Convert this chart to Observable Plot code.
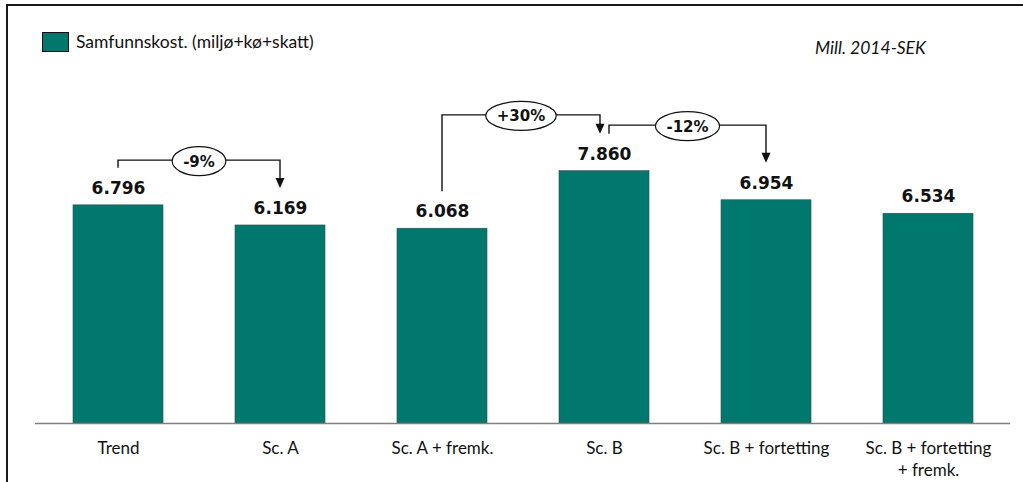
<!DOCTYPE html>
<html>
<head>
<meta charset="utf-8">
<script src="https://cdn.jsdelivr.net/npm/d3@7"></script>
<script src="https://cdn.jsdelivr.net/npm/@observablehq/plot@0.6"></script>
<style>
  html, body { margin: 0; padding: 0; background: #fff; overflow: hidden; }
  #wrap { position: relative; width: 1023px; height: 482px; font-family: Lato, "Open Sans", sans-serif; }
  #frameTop { position: absolute; left: 6px; top: 4px; width: 1017px; height: 0; border-top: 2px solid #1a1a1a; }
  #frameLeft { position: absolute; left: 6px; top: 4px; width: 0; height: 478px; border-left: 2px solid #1a1a1a; }
  #legend { position: absolute; left: 42px; top: 31px; display: flex; align-items: center; font-size: 17.5px; color: #111; }
  #legend .sw { width: 25px; height: 18px; background: #00786D; border: 1.5px solid #111; margin-right: 7px; }
  #unit { position: absolute; left: 815px; top: 37px; font-size: 17.5px; font-style: italic; color: #111; }
  #chart { position: absolute; left: 0; top: 0; }
</style>
</head>
<body>
<div id="wrap">
  <div id="chart"></div>
  <div id="frameTop"></div>
  <div id="frameLeft"></div>
  <div id="legend"><div class="sw"></div><span id="legendText"></span></div>
  <div id="unit"></div>
</div>
<script>
// ---- data ----
const categories = ["Trend", "Sc. A", "Sc. A + fremk.", "Sc. B", "Sc. B + fortetting", "Sc. B + fortetting + fremk."];
const tickLabels = ["Trend", "Sc. A", "Sc. A + fremk.", "Sc. B", "Sc. B + fortetting", "Sc. B + fortetting\n+ fremk."];
const values = [6.796, 6.169, 6.068, 7.860, 6.954, 6.534];
const valueLabels = ["6.796", "6.169", "6.068", "7.860", "6.954", "6.534"];
const seriesName = "Samfunnskost. (miljø+kø+skatt)";
const unitLabel = "Mill. 2014-SEK";
// change annotations
const annFrom = ["Trend", "Sc. A + fremk.", "Sc. B"];
const annTo = ["Sc. A", "Sc. B", "Sc. B + fortetting"];
const annLabel = ["-9%", "+30%", "-12%"];
const annLevel = [8.19, 9.6, 9.28];   // height of the connector (value units)

document.getElementById("legendText").textContent = seriesName;
document.getElementById("unit").textContent = unitLabel;

const data = categories.map((c, i) => ({cat: c, value: values[i], label: valueLabels[i], tick: tickLabels[i]}));
const barColor = "#00786D";

const plot = Plot.plot({
  width: 1023,
  height: 482,
  marginTop: 102,
  marginBottom: 59,
  marginLeft: 35,
  marginRight: 13,
  style: {fontFamily: "Lato, 'Open Sans', sans-serif", background: "transparent", overflow: "visible"},
  x: {domain: categories, paddingInner: 0.445, paddingOuter: 0.2225, axis: null},
  y: {domain: [0, 10], axis: null},
  marks: [
    Plot.barY(data, {x: "cat", y: "value", fill: barColor, stroke: "#2f4f4b", strokeWidth: 0.6}),
    Plot.ruleY([0], {stroke: "#808080", strokeWidth: 1.5}),
    Plot.text(data, {x: "cat", y: "value", text: "label", dy: -17, fontSize: 17, fontWeight: "bold",
      fontFamily: "'DejaVu Sans', sans-serif", fill: "#111"}),
    Plot.text(data, {x: "cat", text: "tick", frameAnchor: "bottom", lineAnchor: "top", dy: 15,
      fontSize: 17, lineHeight: 1.3, fill: "#111"})
  ]
});
document.getElementById("chart").appendChild(plot);

// ---- change annotations, positioned via the plot's own scales ----
const sx = plot.scale("x"), sy = plot.scale("y");
const cx = c => sx.apply(c) + sx.bandwidth / 2;
const topOf = c => sy.apply(values[categories.indexOf(c)]) - 37;
const svg = d3.select(plot);
const g = svg.append("g").attr("class", "annotations");
annLabel.forEach((lab, i) => {
  const shared = annTo.includes(annFrom[i]);
  const sharedTo = annFrom.includes(annTo[i]);
  const x1 = cx(annFrom[i]) + (shared ? 5 : 0);
  const x2 = cx(annTo[i]) + (sharedTo ? -4 : 0);
  const y1 = topOf(annFrom[i]);
  const y2 = topOf(annTo[i]);
  const yl = sy.apply(annLevel[i]);
  g.append("path")
    .attr("d", `M${x1},${y1}V${yl}H${x2}V${y2 - 9}`)
    .attr("fill", "none").attr("stroke", "#111").attr("stroke-width", 1.4);
  g.append("path")
    .attr("d", `M${x2 - 4.5},${y2 - 10}L${x2 + 4.5},${y2 - 10}L${x2},${y2}Z`)
    .attr("fill", "#111");
  const mx = (x1 + x2) / 2;
  const el = g.append("ellipse").attr("cx", mx).attr("cy", yl + 1).attr("ry", 14.5)
    .attr("fill", "#fff").attr("stroke", "#111").attr("stroke-width", 1.2);
  const t = g.append("text").attr("x", mx).attr("y", yl + 1).attr("dy", "0.36em")
    .attr("text-anchor", "middle").attr("font-family", "'DejaVu Sans', sans-serif")
    .attr("font-weight", "bold").attr("font-size", 15).attr("fill", "#111").text(lab);
  const w = t.node().getBBox().width;
  el.attr("rx", w / 2 + 11);
});
</script>
</body>
</html>
